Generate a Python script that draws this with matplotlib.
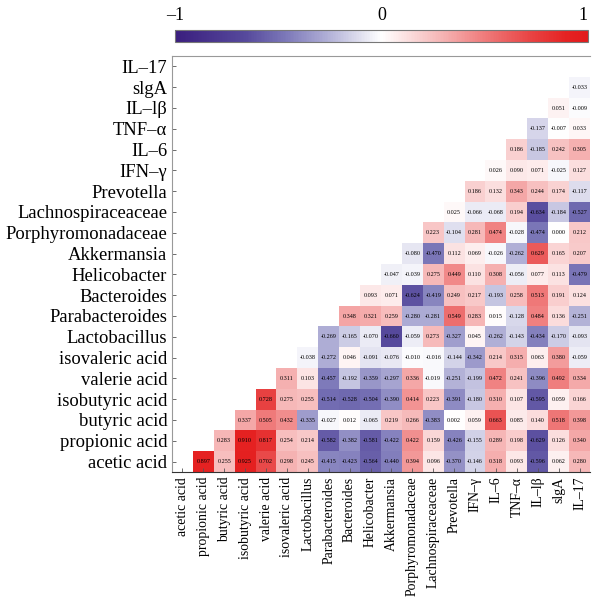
import matplotlib
matplotlib.use('Agg')
import numpy as np
from matplotlib import pyplot as plt
from matplotlib.colors import LinearSegmentedColormap

plt.rcParams['font.family'] = ['Liberation Serif', 'DejaVu Serif']

# variables, bottom-to-top on y == left-to-right on x
names = ['acetic acid', 'propionic acid', 'butyric acid', 'isobutyric acid',
         'valerie acid', 'isovaleric acid', 'Lactobacillus', 'Parabacteroides',
         'Bacteroides', 'Helicobacter', 'Akkermansia', 'Porphyromonadaceae',
         'Lachnospiraceaceae', 'Prevotella', 'IFN–γ', 'IL–6', 'TNF–α',
         'IL–lβ', 'slgA', 'IL–17']

# each row: correlations with the variables to its right
acetic = [0.897, 0.255, 0.925, 0.702, 0.298, 0.245, -0.415, -0.423, -0.564, -0.440,
          0.394, 0.096, -0.370, -0.146, 0.318, 0.093, -0.596, 0.062, 0.280]
propionic = [0.283, 0.910, 0.817, 0.254, 0.214, -0.582, -0.382, -0.581, -0.422, 0.422,
             0.159, -0.426, -0.155, 0.289, 0.198, -0.629, 0.126, 0.340]
butyric = [0.337, 0.505, 0.432, -0.335, -0.027, 0.012, -0.065, 0.219, 0.266, -0.383,
           0.002, 0.059, 0.663, 0.085, 0.140, 0.518, 0.398]
isobutyric = [0.728, 0.275, 0.255, -0.514, -0.528, -0.504, -0.390, 0.414, 0.223, -0.391,
              -0.180, 0.310, 0.107, -0.595, 0.059, 0.166]
valerie = [0.311, 0.103, -0.457, -0.192, -0.359, -0.297, 0.336, -0.019, -0.251, -0.199,
           0.472, 0.241, -0.396, 0.492, 0.334]
isovaleric = [-0.038, -0.272, 0.046, -0.091, -0.076, -0.010, -0.016, -0.144, -0.342,
              0.214, 0.315, 0.063, 0.380, -0.059]
lactobacillus = [-0.269, -0.165, -0.070, -0.660, -0.059, 0.273, -0.327, 0.045, -0.262,
                 -0.143, -0.434, -0.170, -0.093]
parabacteroides = [0.348, 0.321, 0.259, -0.280, -0.281, 0.549, 0.283, 0.015, -0.128,
                   0.484, 0.136, -0.251]
bacteroides = [0.093, 0.071, -0.624, -0.419, 0.249, 0.217, -0.193, 0.258, 0.513, 0.191, 0.124]
helicobacter = [-0.047, -0.039, 0.275, 0.449, 0.110, 0.308, -0.056, 0.077, 0.113, -0.479]
akkermansia = [-0.080, -0.470, 0.112, 0.069, -0.026, -0.262, 0.629, 0.165, 0.207]
porphyro = [0.223, -0.104, 0.281, 0.474, -0.028, -0.474, 0.000, 0.212]
lachno = [0.025, -0.066, -0.068, 0.194, -0.634, -0.184, -0.527]
prevotella = [0.186, 0.132, 0.343, 0.244, 0.174, -0.117]
ifn = [0.026, 0.090, 0.071, -0.025, 0.127]
il6 = [0.186, -0.185, 0.242, 0.305]
tnf = [-0.137, -0.007, 0.033]
il1b = [0.051, -0.009]
slga = [-0.033]

rows = [acetic, propionic, butyric, isobutyric, valerie, isovaleric, lactobacillus,
        parabacteroides, bacteroides, helicobacter, akkermansia, porphyro, lachno,
        prevotella, ifn, il6, tnf, il1b, slga, []]

n = len(names)
M = np.full((n, n), np.nan)
for r, vals in enumerate(rows):
    for k, v in enumerate(vals):
        M[r, r + 1 + k] = v

cmap = LinearSegmentedColormap.from_list('rb', [
    (0.0, '#3a1e7e'), (0.17, '#56499c'), (0.265, '#7b77b8'), (0.365, '#aeadd5'),
    (0.5, '#ffffff'), (0.64, '#f6b8b8'), (0.75, '#ef7b7b'), (0.865, '#e84242'),
    (0.95, '#e52222'), (1.0, '#e31a1c')])

fig = plt.figure(figsize=(5.92, 5.97), dpi=100)
ax = fig.add_axes([172/592, 125/597, 418/592, 416/597])
mesh = ax.pcolormesh(np.arange(n + 1), np.arange(n + 1), np.ma.masked_invalid(M),
                     cmap=cmap, vmin=-1, vmax=1)
for r in range(n):
    for c in range(n):
        if not np.isnan(M[r, c]):
            ax.text(c + 0.5, r + 0.5, f'{M[r, c]:.3f}', ha='center', va='center',
                    fontsize=4.4, color='black')

ax.set_xlim(0, n)
ax.set_ylim(0, n)
ax.set_xticks(np.arange(n) + 0.5)
ax.set_xticklabels(names, rotation=90, fontsize=9.9)
ax.set_yticks(np.arange(n) + 0.5)
ax.set_yticklabels(names, fontsize=13.4)
ax.tick_params(direction='in', length=3, width=0.6, color='#555555')
for s in ['top', 'left']:
    ax.spines[s].set_color('#999999')
ax.spines['right'].set_visible(False)
ax.spines['bottom'].set_color('#333333')

cax = fig.add_axes([175/592, (597-42)/597, 413/592, 12/597])
cb = fig.colorbar(mesh, cax=cax, orientation='horizontal', ticks=[-1, 0, 1])
cb.ax.xaxis.set_ticks_position('top')
cb.ax.set_xticklabels(['–1', '0', '1'], fontsize=13)
cb.ax.get_xticklabels()[-1].set_horizontalalignment('right')
cb.ax.tick_params(length=0, pad=4)
cb.outline.set_edgecolor('#777777')

fig.savefig('out.png', dpi=100)
